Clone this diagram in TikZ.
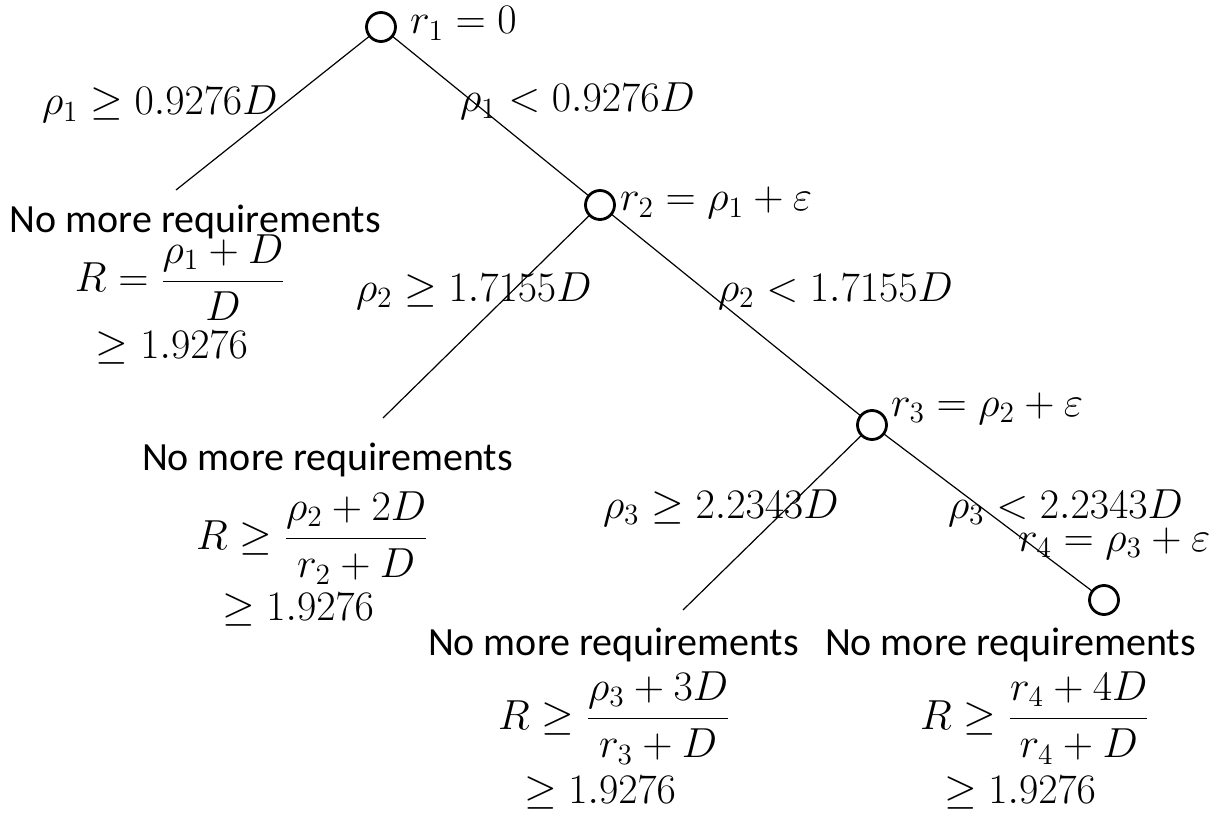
\documentclass[tikz,border=0pt]{standalone}
\usepackage{fix-cm}
\usepackage{amsmath}
\usepackage[no-math]{fontspec}
\setmainfont{Carlito}
\begin{document}
\begin{tikzpicture}[x=0.5pt,y=-0.5pt,
  every node/.style={font=\fontsize{20}{24}\selectfont, inner sep=0pt, outer sep=0pt},
  state/.style={circle, draw, line width=1.4pt, minimum size=14.5pt},
  txt/.style={anchor=base west},
  mth/.style={anchor=base west, font=\fontsize{21}{25}\selectfont},
  edge/.style={line width=0.6pt}]
\useasboundingbox (0,0) rectangle (1223,813);
% states
\node[state] (c1) at (381,27) {};
\node[state] (c2) at (600,205) {};
\node[state] (c3) at (872,425) {};
\node[state] (c4) at (1104,600) {};
% leaf ends
\coordinate (e1) at (176,190);
\coordinate (e2) at (383,418);
\coordinate (e3) at (683,610);
% edges
\draw[edge] (c1) -- (e1);
\draw[edge] (c1) -- (c2);
\draw[edge] (c2) -- (e2);
\draw[edge] (c2) -- (c3);
\draw[edge] (c3) -- (e3);
\draw[edge] (c3) -- (c4);
% state labels
\node[mth] (l1) at (410,34) {$r_1=0$};
\node[mth] (l2) at (620,211) {$r_2=\rho_1+\varepsilon$};
\node[mth] (l3) at (891,416) {$r_3=\rho_2+\varepsilon$};
\node[mth] (l4) at (1018,551) {$r_4=\rho_3+\varepsilon$};
% edge labels
\node[mth] (a1) at (42,115) {$\rho_1\geq 0.9276D$};
\node[mth] (b1) at (460,112) {$\rho_1<0.9276D$};
\node[mth] (a2) at (356,301) {$\rho_2\geq 1.7155D$};
\node[mth] (b2) at (718,301) {$\rho_2<1.7155D$};
\node[mth] (a3) at (603,518) {$\rho_3\geq 2.2343D$};
\node[mth] (b3) at (948,518) {$\rho_3<2.2343D$};
% leaves
\node[txt] (n1) at (10,233) {No more requirements};
\node[mth] (f1) at (75,292) {$R=\dfrac{\rho_1+D}{D}$};
\node[mth] (g1) at (96,358) {$\geq 1.9276$};
\node[txt] (n2) at (142,470) {No more requirements};
\node[mth] (f2) at (196,549) {$R\geq\dfrac{\rho_2+2D}{r_2+D}$};
\node[mth] (g2) at (222,620) {$\geq 1.9276$};
\node[txt] (n3) at (428,655) {No more requirements};
\node[mth] (f3) at (498,729) {$R\geq\dfrac{\rho_3+3D}{r_3+D}$};
\node[mth] (g3) at (524,803) {$\geq 1.9276$};
\node[txt] (n4) at (825,655) {No more requirements};
\node[mth] (f4) at (920,729) {$R\geq\dfrac{r_4+4D}{r_4+D}$};
\node[mth] (g4) at (944,803) {$\geq 1.9276$};
\end{tikzpicture}
\end{document}
